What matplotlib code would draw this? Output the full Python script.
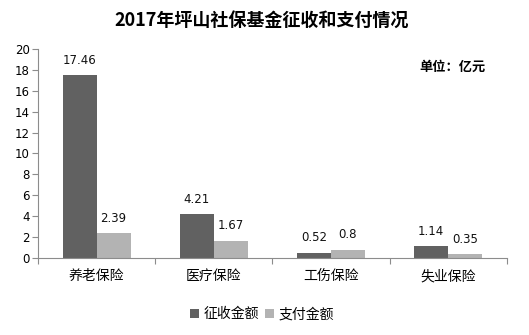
import matplotlib
matplotlib.use('Agg')
import matplotlib.pyplot as plt
import numpy as np

plt.rcParams['font.family'] = ['Noto Sans CJK SC', 'DejaVu Sans']

categories = ['养老保险', '医疗保险', '工伤保险', '失业保险']
collected = [17.46, 4.21, 0.52, 1.14]
paid = [2.39, 1.67, 0.8, 0.35]
series_names = ['征收金额', '支付金额']
yticks = [0, 2, 4, 6, 8, 10, 12, 14, 16, 18, 20]

dark = '#616161'
light = '#b3b3b3'
axis_col = '#8c8c8c'

fig = plt.figure(figsize=(5.29, 3.35), dpi=100)
ax = fig.add_axes([0.0718, 0.2299, 0.8862, 0.6241])

x = np.arange(len(categories))
w = 0.29
b1 = ax.bar(x - w / 2, collected, w, color=dark, label=series_names[0])
b2 = ax.bar(x + w / 2, paid, w, color=light, label=series_names[1])

for bars in (b1, b2):
    for r in bars:
        v = r.get_height()
        ax.annotate('{:g}'.format(v), (r.get_x() + r.get_width() / 2, v),
                    xytext=(0, 6), textcoords='offset points',
                    ha='center', va='bottom', fontsize=8.5,
                    family=['DejaVu Sans'], color='#111111')

ax.set_xlim(-0.5, len(categories) - 0.5)
ax.set_ylim(0, 20)
ax.set_yticks(yticks)
ax.set_yticklabels([str(t) for t in yticks], fontsize=8.5, family=['DejaVu Sans'])
ax.set_xticks(np.arange(-0.5, len(categories), 1.0))
ax.set_xticklabels([])
ax.set_xticks(x, minor=True)
ax.set_xticklabels(categories, minor=True, fontsize=10)
ax.tick_params(axis='x', which='minor', length=0, pad=8)
ax.tick_params(axis='x', which='major', length=4, color=axis_col)
ax.tick_params(axis='y', length=4, color=axis_col, pad=2)

for s in ['top', 'right']:
    ax.spines[s].set_visible(False)
for s in ['left', 'bottom']:
    ax.spines[s].set_color(axis_col)

fig.text(0.495, 0.94, '2017年坪山社保基金征收和支付情况', ha='center', va='center',
         fontsize=13, fontweight='bold')
fig.text(0.855, 0.80, '单位：亿元', ha='center', va='center',
         fontsize=9.5, fontweight='bold')

fig.legend(handles=[b1, b2], labels=series_names, loc='center',
           bbox_to_anchor=(0.495, 0.062), ncol=2, frameon=False,
           fontsize=10, handlelength=0.7, handleheight=0.7,
           handletextpad=0.3, columnspacing=0.4)

fig.savefig('out.png', dpi=100)
